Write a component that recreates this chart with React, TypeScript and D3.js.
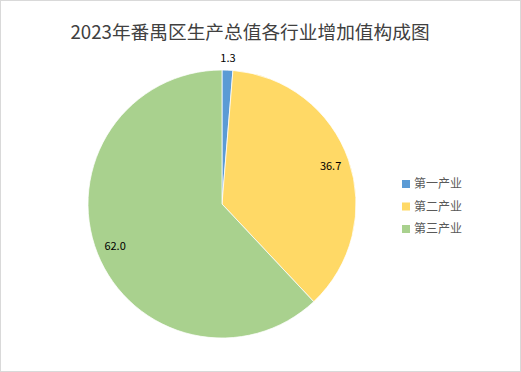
import React, { useEffect, useRef } from 'react'
import * as d3 from 'd3'

const categories = ['第一产业', '第二产业', '第三产业']
const values = [1.3, 36.7, 62.0]
const labels = ['1.3', '36.7', '62.0']
const colors = ['#5B9BD5', '#FFD966', '#A9D18E']

export default function App() {
  const ref = useRef<SVGSVGElement>(null)

  useEffect(() => {
    document.body.style.margin = '0'
    const width = 521
    const height = 372
    const cx = 222
    const cy = 204
    const r = 134

    const svg = d3.select(ref.current)
    svg.selectAll('*').remove()

    svg.append('rect')
      .attr('x', 0.5).attr('y', 0.5)
      .attr('width', width - 1).attr('height', height - 1)
      .attr('fill', '#fff')
      .attr('stroke', '#d9d9d9')

    svg.append('text')
      .attr('x', 250).attr('y', 39)
      .attr('text-anchor', 'middle')
      .attr('font-size', 18.7)
      .attr('fill', '#404040')
      .text('2023年番禺区生产总值各行业增加值构成图')

    const pie = d3.pie<number>().sort(null).value(d => d)
    const arcs = pie(values)
    const arc = d3.arc<d3.PieArcDatum<number>>().innerRadius(0).outerRadius(r)

    const g = svg.append('g').attr('transform', `translate(${cx},${cy})`)
    g.selectAll('path')
      .data(arcs)
      .enter().append('path')
      .attr('d', arc)
      .attr('fill', (d, i) => colors[i])
      .attr('stroke', '#fff')
      .attr('stroke-width', 0.75)

    // data labels: first slice outside, others inside
    const labelRadius = [146, 115, 115]
    g.selectAll('text.lbl')
      .data(arcs)
      .enter().append('text')
      .attr('class', 'lbl')
      .attr('x', (d, i) => Math.sin((d.startAngle + d.endAngle) / 2) * labelRadius[i])
      .attr('y', (d, i) => -Math.cos((d.startAngle + d.endAngle) / 2) * labelRadius[i])
      .attr('dy', '0.35em')
      .attr('text-anchor', 'middle')
      .attr('font-size', 11)
      .attr('fill', '#000')
      .text((d, i) => labels[i])

    const legend = svg.append('g').attr('transform', 'translate(402,184)')
    categories.forEach((c, i) => {
      const row = legend.append('g').attr('transform', `translate(0,${i * 22.5})`)
      row.append('rect')
        .attr('x', 0).attr('y', -4)
        .attr('width', 8).attr('height', 8)
        .attr('fill', colors[i])
      row.append('text')
        .attr('x', 12).attr('y', 0)
        .attr('dy', '0.35em')
        .attr('font-size', 12)
        .attr('fill', '#595959')
        .text(c)
    })
  }, [])

  return (
    <svg ref={ref} width={521} height={372}
      style={{ display: 'block', fontFamily: '"Noto Sans CJK SC", "Noto Sans", sans-serif' }} />
  )
}
